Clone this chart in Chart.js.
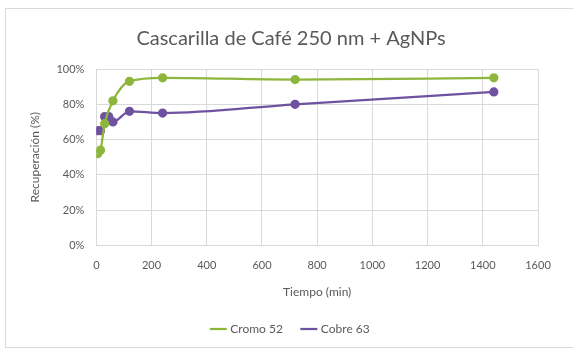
<!DOCTYPE html>
<html>
<head>
<meta charset="utf-8">
<script src="https://cdn.jsdelivr.net/npm/chart.js@4"></script>
<style>
  html, body { margin: 0; padding: 0; background: #fff; }
  #marco { position: absolute; left: 5px; top: 8px; width: 580px; height: 338px; border: 1px solid #d9d9d9; }
  #grafico { position: absolute; left: 0; top: 0; }
</style>
</head>
<body>
<div id="marco"></div>
<canvas id="grafico" width="573" height="350"></canvas>
<script>
// Datos
const tiempoCromo = [5, 15, 30, 60, 120, 240, 720, 1440];
const cromo52 = [52, 54, 69, 82, 93, 95, 94, 95];
const tiempoCobre = [5, 15, 30, 45, 60, 120, 240, 720, 1440];
const cobre63 = [65, 65, 73, 73, 70, 76, 75, 80, 87];

const verde = '#8db63c';
const morado = '#6f52a0';
const gris = '#595959';

function puntos(xs, ys) {
    return xs.map((x, i) => ({ x: x, y: ys[i] }));
}

// El marco original es más ancho que la ventana: centrar título y leyenda un poco a la derecha
const desplazar = {
    id: 'desplazar',
    afterLayout(chart) {
        [chart.titleBlock, chart.legend].forEach(b => {
            if (b) { b.left += 12; b.right += 12; }
        });
    }
};

Chart.defaults.font.family = 'Lato, "Open Sans", sans-serif';
Chart.defaults.color = gris;

var ctx = document.getElementById('grafico').getContext('2d');
var myChart = new Chart(ctx, {
    type: 'line',
    data: {
        datasets: [{
            label: 'Cromo 52',
            data: puntos(tiempoCromo, cromo52),
            borderColor: verde,
            backgroundColor: verde,
            borderWidth: 2.25,
            pointRadius: 3.5,
            cubicInterpolationMode: 'monotone'
        }, {
            label: 'Cobre 63',
            data: puntos(tiempoCobre, cobre63),
            borderColor: morado,
            backgroundColor: morado,
            borderWidth: 2.25,
            pointRadius: 3.5,
            cubicInterpolationMode: 'monotone'
        }]
    },
    options: {
        responsive: false,
        animation: false,
        layout: { padding: { left: 20, right: 35, top: 12, bottom: 5 } },
        plugins: {
            title: {
                display: true,
                text: 'Cascarilla de Café 250 nm + AgNPs',
                color: gris,
                font: { size: 20, weight: 'normal' },
                padding: { top: 15, bottom: 18 }
            },
            legend: {
                position: 'bottom',
                labels: {
                    usePointStyle: true,
                    pointStyle: 'line',
                    boxWidth: 38,
                    font: { size: 12 },
                    color: gris,
                    padding: 20
                }
            }
        },
        scales: {
            x: {
                type: 'linear',
                min: 0,
                max: 1600,
                ticks: { stepSize: 200, font: { size: 11 }, color: gris, padding: 13, callback: v => v },
                grid: { color: '#d9d9d9', drawTicks: false },
                border: { color: '#d9d9d9' },
                title: { display: true, text: 'Tiempo (min)', font: { size: 12 }, color: gris, padding: { top: 0 } }
            },
            y: {
                min: 0,
                max: 100,
                ticks: {
                    stepSize: 20,
                    font: { size: 11 },
                    color: gris,
                    padding: 12,
                    callback: v => v + '%'
                },
                grid: { color: '#d9d9d9', drawTicks: false },
                border: { display: false },
                title: { display: true, text: 'Recuperación (%)', font: { size: 12 }, color: gris, padding: { top: 8, bottom: 2 } }
            }
        }
    },
    plugins: [desplazar]
});
</script>
</body>
</html>
